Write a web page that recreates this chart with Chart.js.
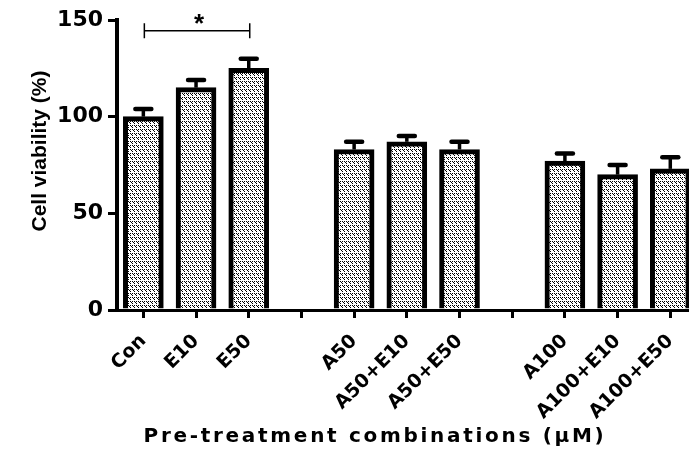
<!DOCTYPE html>
<html><head><meta charset="utf-8">
<style>html,body{margin:0;padding:0;background:#fff;overflow:hidden}#wrap{width:689px;height:452px}</style>
<script src="https://cdn.jsdelivr.net/npm/chart.js@4.4.1/dist/chart.umd.min.js"></script>
</head><body><div id="wrap"><canvas id="c" width="689" height="452"></canvas></div>
<script>
const categories = ['Con','E10','E50','','A50','A50+E10','A50+E50','','A100','A100+E10','A100+E50'];
const viability = [100,115,125,null,83,87,83,null,77,70,73];
const sem = [4,4,5,null,4,3,4,null,4,5,6];
const yTicks = [0,50,100,150];
const yTitle = 'Cell viability (%)';
const xTitle = 'Pre-treatment combinations (\u03bcM)';
const sigPair = [0,2];
const sigLevel = 144.5;
const sigLabel = '*';

const canvas = document.getElementById('c');
const ctx0 = canvas.getContext('2d');
function makePattern(){
  const p = document.createElement('canvas'); p.width = 8; p.height = 8;
  const g = p.getContext('2d');
  g.fillStyle = '#fff'; g.fillRect(0,0,8,8); g.fillStyle = '#000';
  [[0,1],[2,1],[1,2],[4,1],[6,1],[5,2],[2,5],[4,5],[3,6],[6,5],[0,5],[7,6],[2,3],[6,3],[0,7],[4,7]].forEach(([x,y])=>g.fillRect(x,y,1,1));
  return ctx0.createPattern(p,'repeat');
}
const pattern = makePattern();

const points = categories.map((c,i)=>({x:i,y:viability[i]})).filter(d=>d.y!==null);

const errorBars = {
  id:'errorBars',
  afterDatasetsDraw(chart){
    const {ctx, scales:{x,y}} = chart;
    ctx.save(); ctx.strokeStyle = '#000';
    categories.forEach((c,i)=>{
      if (viability[i]==null) return;
      const px = x.getPixelForValue(i);
      const top = y.getPixelForValue(viability[i]);
      const e = y.getPixelForValue(viability[i]+sem[i]);
      ctx.lineCap='butt'; ctx.lineWidth = 3.5;
      ctx.beginPath(); ctx.moveTo(px, top); ctx.lineTo(px, e); ctx.stroke();
      ctx.lineCap='round'; ctx.lineWidth = 4.5;
      ctx.beginPath(); ctx.moveTo(px-8, e); ctx.lineTo(px+8, e); ctx.stroke();
    });
    ctx.restore();
  }
};
const annotations = {
  id:'annotations',
  afterDraw(chart){
    const {ctx, scales:{x,y}} = chart;
    ctx.save();
    const x0 = x.getPixelForValue(sigPair[0])+1, x1 = x.getPixelForValue(sigPair[1])+1, yy = y.getPixelForValue(sigLevel);
    ctx.strokeStyle='#000'; ctx.lineWidth=1.5;
    ctx.beginPath();
    ctx.moveTo(x0,yy); ctx.lineTo(x1,yy);
    ctx.moveTo(x0,yy-7.5); ctx.lineTo(x0,yy+7.5);
    ctx.moveTo(x1,yy-7.5); ctx.lineTo(x1,yy+7.5);
    ctx.stroke();
    ctx.fillStyle='#000';
    ctx.font='bold 26px "Liberation Sans", Arial, sans-serif';
    ctx.textAlign='center'; ctx.textBaseline='alphabetic';
    ctx.fillText(sigLabel,(x0+x1)/2+2, yy+1.5);
    // x title
    ctx.font='bold 20px "DejaVu Sans", sans-serif';
    ctx.letterSpacing='2.7px';
    ctx.fillText(xTitle, 375, 442);
    ctx.letterSpacing='0px';
    // y title
    ctx.translate(40,151); ctx.rotate(-Math.PI/2);
    ctx.font='bold 21px "Liberation Sans", Arial, sans-serif';
    ctx.textBaseline='middle';
    ctx.fillText(yTitle,0,0);
    ctx.restore();
  }
};

new Chart(canvas,{
  type:'bar',
  data:{datasets:[{data:points, backgroundColor:pattern, borderColor:'#000', borderWidth:5, borderSkipped:'start', barThickness:40}]},
  options:{
    responsive:false, animation:false, devicePixelRatio:1,
    layout:{padding:{top:20,right:0,left:0,bottom:0}},
    plugins:{legend:{display:false},tooltip:{enabled:false}},
    scales:{
      x:{type:'linear', min:-0.5, max:10.355, offset:false,
        afterBuildTicks:s=>{s.ticks=categories.map((_,i)=>({value:i}));},
        ticks:{autoSkip:false,minRotation:45,maxRotation:45,color:'#000',padding:12,
          callback:(v)=>categories[v]??'',
          font:{family:'DejaVu Sans',weight:'bold',size:19}},
        grid:{display:true,offset:false,drawOnChartArea:false,drawTicks:true,tickLength:8,lineWidth:3,color:'#000'},
        border:{display:true,width:3,color:'#000'},
        afterFit:s=>{s.height=142;s.paddingLeft=0;s.paddingRight=0;}
      },
      y:{min:0,max:150,
        afterBuildTicks:s=>{s.ticks=yTicks.map(v=>({value:v}));},
        ticks:{color:'#000',padding:5,font:{family:'DejaVu Sans',weight:'bold',size:22}},
        grid:{drawOnChartArea:false,drawTicks:true,tickLength:9,lineWidth:3,color:'#000'},
        border:{display:true,width:4,color:'#000'},
        afterFit:s=>{s.width=117;}
      }
    }
  },
  plugins:[errorBars,annotations]
});
</script></body></html>
